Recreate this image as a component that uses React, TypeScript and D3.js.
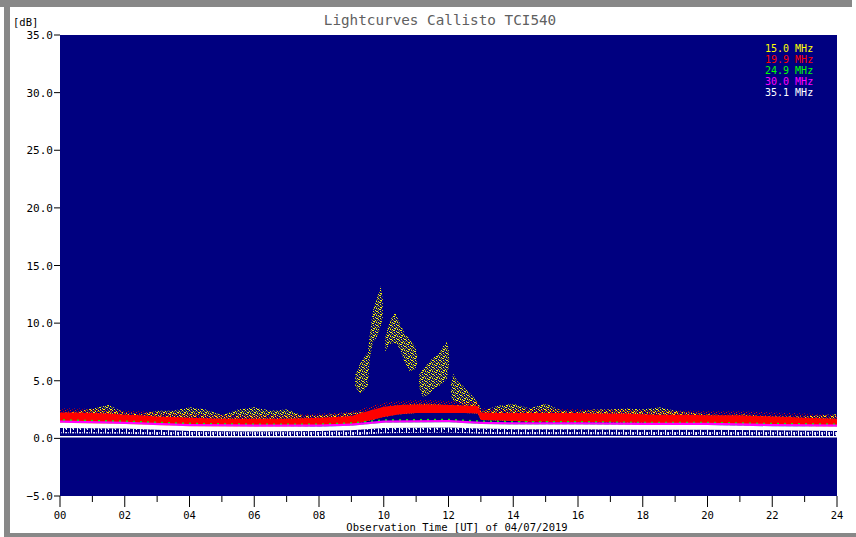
import React from "react"
import * as d3 from "d3"

// time grid (hours UT) for the background bands
const bandHours = [
  0, 0.5, 1, 1.5, 2, 2.5, 3, 3.5, 4, 4.5, 5, 5.5, 6, 6.5, 7, 7.5, 8, 8.5, 9,
  9.5, 10, 10.5, 11, 11.5, 12, 12.5, 12.9, 13, 13.5, 14, 14.5, 15, 15.5, 16,
  16.5, 17, 17.5, 18, 18.5, 19, 19.5, 20, 20.5, 21, 21.5, 22, 22.5, 23, 23.5,
  24,
]

// 19.9 MHz (red) upper / lower edge, dB
const redHigh = [
  2.25, 2.25, 2.2, 2.15, 2.05, 2.0, 1.9, 1.85, 1.8, 1.75, 1.7, 1.7, 1.7, 1.7,
  1.7, 1.75, 1.8, 1.85, 1.95, 2.35, 2.75, 2.9, 2.95, 2.95, 2.9, 2.85, 2.8, 2.25,
  2.2, 2.2, 2.2, 2.2, 2.2, 2.2, 2.15, 2.15, 2.15, 2.1, 2.05, 2.05, 2.05, 2.0,
  2.0, 2.0, 1.95, 1.9, 1.85, 1.8, 1.75, 1.7,
]
const redLow = [
  1.3, 1.25, 1.25, 1.2, 1.2, 1.1, 1.05, 1.0, 0.95, 0.95, 0.95, 0.95, 0.95, 0.95,
  1.0, 1.05, 1.1, 1.15, 1.2, 1.5, 1.85, 2.1, 2.2, 2.2, 2.2, 2.2, 2.15, 1.6,
  1.55, 1.5, 1.45, 1.45, 1.4, 1.4, 1.4, 1.4, 1.35, 1.35, 1.3, 1.3, 1.3, 1.3,
  1.25, 1.25, 1.2, 1.15, 1.1, 1.05, 1.0, 0.95,
]

// 15.0 MHz (yellow) upper envelope of the quiet-sun noise, dB
const yellowHigh = [
  2.2, 2.3, 2.6, 2.9, 2.2, 2.1, 2.4, 2.4, 2.7, 2.5, 2.0, 2.5, 2.7, 2.4, 2.5,
  2.0, 2.0, 2.1, 2.2, 2.3, 2.7, 2.9, 3.0, 3.0, 2.9, 2.9, 2.8, 2.3, 2.8, 3.0,
  2.6, 3.0, 2.4, 2.3, 2.5, 2.5, 2.6, 2.5, 2.7, 2.4, 2.2, 2.1, 2.0, 2.1, 2.0,
  1.9, 1.9, 1.9, 2.0, 2.1,
]

// 15.0 MHz type III burst group, null = gap between bursts
const burstHours = [
  9.12, 9.27, 9.39, 9.51, 9.57, 9.66, 9.79, 9.91, 9.97, null,
  10.05, 10.19, 10.35, 10.5, 10.66, 10.81, 10.97, 11.03, null,
  11.09, 11.21, 11.37, 11.52, 11.68, 11.83, 11.95, 12.02, null,
  12.08, 12.15, 12.26, 12.42, 12.57, 12.73, 12.88, 13.0,
]
const burstLow = [
  4.5, 3.9, 4.2, 4.6, 7.0, 8.3, 8.8, 9.8, 10.5, null,
  7.5, 8.2, 8.3, 7.8, 6.5, 5.8, 6.0, 6.5, null,
  4.5, 3.6, 3.8, 4.2, 4.5, 4.8, 5.2, 6.5, null,
  3.6, 3.2, 3.2, 3.0, 2.8, 2.5, 2.2, 2.0,
]
const burstHigh = [
  5.5, 6.5, 7.0, 7.5, 9.0, 11.0, 12.2, 13.2, 12.0, null,
  8.8, 10.2, 10.9, 10.0, 9.0, 8.6, 8.0, 7.3, null,
  5.5, 6.0, 6.5, 7.0, 7.3, 8.0, 8.4, 7.5, null,
  4.8, 5.6, 5.0, 4.6, 4.2, 3.7, 3.2, 2.6,
]

// 35.1 MHz (white) band, dB
const whiteHours = [0, 2, 4, 6, 8, 9, 10, 12, 13, 14, 16, 18, 20, 22, 24]
const whiteHigh = [1.35, 1.25, 1.05, 1.0, 1.0, 1.1, 1.35, 1.4, 1.25, 1.2, 1.2, 1.15, 1.15, 1.05, 1.0]
const whiteLow = [0.9, 0.85, 0.65, 0.6, 0.65, 0.7, 0.9, 0.95, 0.85, 0.8, 0.8, 0.75, 0.75, 0.7, 0.65]
// 30.0 MHz (magenta) and 24.9 MHz (green) sit just above the white band
const magentaHigh = [1.55, 1.45, 1.25, 1.2, 1.2, 1.3, 1.55, 1.6, 1.45, 1.4, 1.4, 1.35, 1.35, 1.25, 1.2]
const greenHigh = [1.65, 1.55, 1.35, 1.3, 1.3, 1.4, 1.65, 1.7, 1.55, 1.5, 1.5, 1.45, 1.45, 1.35, 1.3]

const referenceLevel = 0.15

const legendLabels = ["15.0 MHz", "19.9 MHz", "24.9 MHz", "30.0 MHz", "35.1 MHz"]
const legendColors = ["#ffff00", "#ff0000", "#00ff00", "#ff00ff", "#ffffff"]

const yTicks = [-5, 0, 5, 10, 15, 20, 25, 30, 35]
const xTicks = [0, 1, 2, 3, 4, 5, 6, 7, 8, 9, 10, 11, 12, 13, 14, 15, 16, 17, 18, 19, 20, 21, 22, 23, 24]

const FONT = "'DejaVu Sans Mono', 'Liberation Mono', monospace"

// pixel layout of the speckle tiles (col,row,colour)
const yellowDots = [
  [0, 0, "#ffff00"], [3, 0, "#9a9a00"], [5, 0, "#ffff00"],
  [1, 1, "#ffff00"], [2, 1, "#ffff00"], [6, 1, "#808000"],
  [4, 2, "#ffff00"], [0, 2, "#8c8c00"],
  [2, 3, "#ffff00"], [5, 3, "#ffff00"], [6, 3, "#ffff00"],
  [0, 4, "#ffff00"], [3, 4, "#808000"],
  [1, 5, "#9a9a00"], [4, 5, "#ffff00"], [6, 5, "#8c8c00"],
  [2, 6, "#ffff00"], [3, 6, "#ffff00"], [5, 6, "#9a9a00"],
]
const redDots = [
  [0, 0, "#ff0000"], [3, 1, "#c00000"], [1, 2, "#ff0000"], [4, 3, "#ff0000"], [2, 4, "#a00000"],
]
const whiteTicks = [
  [0, 6, "#ffffff"], [2, 3, "#c8c8f0"], [3, 4, "#ffffff"], [5, 2, "#b0b0e0"],
]

export default function App() {
  const W = 856
  const H = 537
  const left = 60
  const right = 837
  const top = 35
  const bottom = 496

  const x = d3.scaleLinear().domain([0, 24]).range([left, right])
  const y = d3.scaleLinear().domain([-5, 35]).range([bottom, top])

  const band = (hours, hi, lo) =>
    d3
      .area()
      .defined((d, i) => hours[i] != null && hi[i] != null)
      .x((d, i) => x(hours[i]))
      .y0((d, i) => y(lo[i]))
      .y1((d, i) => y(hi[i]))(hours)

  const redFringe = redHigh.map((v) => v + 0.35)
  const redPath = band(bandHours, redHigh, redLow)
  const redFringePath = band(bandHours, redFringe, redHigh)
  const yellowPath = band(bandHours, yellowHigh, redLow)
  const burstPath = band(burstHours, burstHigh, burstLow)
  const greenPath = band(whiteHours, greenHigh, whiteHigh)
  const magentaPath = band(whiteHours, magentaHigh, whiteHigh)
  const whitePath = band(whiteHours, whiteHigh, whiteLow)
  const speckLow = whiteLow.map((v) => v - 0.45)
  const speckPath = band(whiteHours, whiteLow, speckLow)

  const fmt = d3.format(".1f")
  const hourFmt = d3.format("02d")

  return (
    <svg
      width={W}
      height={H}
      style={{ position: "absolute", left: 0, top: 0, background: "#fff" }}
    >
      <defs>
        <pattern id="ySpeck" width="7" height="7" patternUnits="userSpaceOnUse">
          {yellowDots.map(([c, r, col], i) => (
            <rect key={i} x={c} y={r} width="1" height="1" fill={col} />
          ))}
        </pattern>
        <pattern id="rSpeck" width="5" height="5" patternUnits="userSpaceOnUse">
          {redDots.map(([c, r, col], i) => (
            <rect key={i} x={c} y={r} width="1" height="1" fill={col} />
          ))}
        </pattern>
        <pattern id="wSpeck" width="7" height="6" patternUnits="userSpaceOnUse">
          {whiteTicks.map(([c, h, col], i) => (
            <rect key={i} x={c} y={0} width="1" height={h} fill={col} />
          ))}
        </pattern>
        <pattern id="gSpeck" width="7" height="2" patternUnits="userSpaceOnUse">
          <rect x="0" y="0" width="2" height="2" fill="#00ff00" />
        </pattern>
      </defs>

      {/* window frame */}
      <rect x={0} y={0} width={852} height={7} fill="#888" />
      <rect x={4} y={0} width={6} height={H} fill="#888" />
      <rect x={4} y={533} width={W - 4} height={4} fill="#888" />

      <text
        x={440}
        y={25}
        textAnchor="middle"
        fontFamily={FONT}
        fontSize={14.3}
        fill="#606060"
      >
        Lightcurves Callisto TCI540
      </text>
      <text x={13} y={26} fontFamily={FONT} fontSize={10.5} fill="#000">
        [dB]
      </text>

      <rect x={left} y={top} width={right - left} height={bottom - top} fill="#000080" />

      <g>
        <path d={yellowPath} fill="url(#ySpeck)" />
        <path d={burstPath} fill="url(#ySpeck)" />
        <path d={redFringePath} fill="url(#rSpeck)" />
        <path d={redPath} fill="#ff0000" />
        <path d={greenPath} fill="url(#gSpeck)" />
        <path d={magentaPath} fill="#ff00ff" />
        <path d={speckPath} fill="url(#wSpeck)" />
        <path d={whitePath} fill="#ffffff" />
        <line
          x1={left}
          x2={right}
          y1={y(referenceLevel)}
          y2={y(referenceLevel)}
          stroke="#ffffff"
          strokeWidth={1.5}
        />
      </g>

      {/* legend */}
      {legendLabels.map((l, i) => (
        <text
          key={l}
          x={765}
          y={52 + i * 11}
          fontFamily={FONT}
          fontSize={10}
          fill={legendColors[i]}
        >
          {l}
        </text>
      ))}

      {/* y axis */}
      {yTicks.map((t) => (
        <g key={t}>
          <line x1={left - 6} x2={left} y1={y(t)} y2={y(t)} stroke="#000" />
          <text
            x={left - 7}
            y={y(t) + 4}
            textAnchor="end"
            fontFamily={FONT}
            fontSize={11}
            fill="#000"
          >
            {fmt(t)}
          </text>
        </g>
      ))}

      {/* x axis */}
      {xTicks.map((t) => (
        <g key={t}>
          <line
            x1={x(t)}
            x2={x(t)}
            y1={bottom}
            y2={bottom + (t % 2 === 0 ? 11 : 6)}
            stroke="#000"
          />
          {t % 2 === 0 && (
            <text
              x={x(t)}
              y={519}
              textAnchor="middle"
              fontFamily={FONT}
              fontSize={10.5}
              fill="#000"
            >
              {hourFmt(t)}
            </text>
          )}
        </g>
      ))}
      <text
        x={457}
        y={531}
        textAnchor="middle"
        fontFamily={FONT}
        fontSize={10.5}
        fill="#000"
      >
        Observation Time [UT] of 04/07/2019
      </text>
    </svg>
  )
}
